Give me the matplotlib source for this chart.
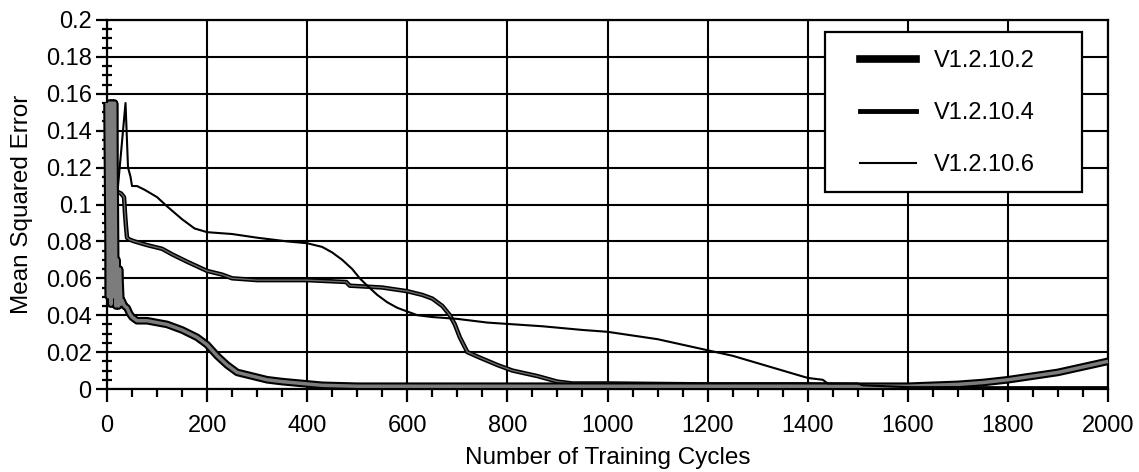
import matplotlib.pyplot as plt
import matplotlib.patheffects as pe
from matplotlib.lines import Line2D
from matplotlib.patches import Rectangle
from matplotlib.ticker import MultipleLocator, FuncFormatter

plt.rcParams['font.family'] = ['Liberation Sans', 'DejaVu Sans']

# data
labels = ["V1.2.10.2", "V1.2.10.4", "V1.2.10.6"]

cycles_2 = [0, 3, 5, 8, 10, 13, 15, 18, 20, 23, 25, 28, 30, 35, 40, 45, 50, 60, 80, 100,
            120, 150, 180, 200, 220, 240, 260, 290, 320, 350, 390, 430, 500, 700, 900,
            1100, 1300, 1500, 1600, 1650, 1700, 1750, 1800, 1850, 1900, 1950, 2000]
mse_2 = [0.155, 0.05, 0.155, 0.046, 0.155, 0.05, 0.155, 0.045, 0.07, 0.045, 0.065, 0.046,
         0.048, 0.045, 0.044, 0.041, 0.039, 0.037, 0.037, 0.036, 0.035, 0.032, 0.028, 0.024,
         0.018, 0.013, 0.009, 0.007, 0.005, 0.004, 0.003, 0.002, 0.0015, 0.0015, 0.0015,
         0.0015, 0.0015, 0.0015, 0.0015, 0.002, 0.0025, 0.0035, 0.005, 0.007, 0.009, 0.012, 0.015]

cycles_4 = [12, 20, 28, 34, 36, 38, 40, 45, 55, 80, 110, 130, 160, 200, 230, 250, 300, 400,
            478, 485, 550, 600, 630, 650, 670, 685, 695, 705, 720, 745, 780, 810, 860, 900,
            930, 1000, 1200, 1400, 1500, 1600]
mse_4 = [0.107, 0.107, 0.106, 0.104, 0.095, 0.088, 0.082, 0.081, 0.08, 0.078, 0.076, 0.073,
         0.069, 0.064, 0.062, 0.06, 0.059, 0.059, 0.058, 0.056, 0.055, 0.053, 0.051, 0.049,
         0.045, 0.04, 0.035, 0.028, 0.02, 0.017, 0.013, 0.01, 0.007, 0.004, 0.003, 0.003,
         0.0025, 0.0025, 0.002, 0.0015]

cycles_6 = [22, 37, 42, 47, 50, 60, 75, 100, 120, 150, 175, 200, 250, 300, 360, 400, 430,
            450, 470, 490, 505, 520, 540, 560, 580, 600, 620, 650, 700, 760, 870, 950, 1000,
            1050, 1100, 1150, 1200, 1250, 1300, 1350, 1400, 1430, 1440, 1500, 1510, 1600, 2000]
mse_6 = [0.11, 0.155, 0.12, 0.115, 0.11, 0.11, 0.108, 0.104, 0.099, 0.092, 0.087, 0.085,
         0.084, 0.082, 0.08, 0.079, 0.077, 0.074, 0.07, 0.065, 0.06, 0.056, 0.051, 0.047,
         0.044, 0.042, 0.04, 0.039, 0.038, 0.036, 0.034, 0.032, 0.031, 0.029, 0.027, 0.024,
         0.021, 0.018, 0.014, 0.01, 0.006, 0.005, 0.003, 0.003, 0.002, 0.001, 0.001]

fig = plt.figure(figsize=(11.39, 4.72), dpi=100)
ax = fig.add_axes([107 / 1139, 1 - 389 / 472, 1001 / 1139, 369 / 472])

# scanned look: black edge with a grey core on the thick curves
ax.plot(cycles_2, mse_2, color="black", lw=5.5, solid_capstyle="butt", clip_on=False,
        path_effects=[pe.Normal(), pe.Stroke(linewidth=2.5, foreground="#7c7c7c")], zorder=4)
ax.plot(cycles_4, mse_4, color="black", lw=3.2, clip_on=False,
        path_effects=[pe.Normal(), pe.Stroke(linewidth=1.0, foreground="#6a6a6a")], zorder=3)
ax.plot(cycles_6, mse_6, color="black", lw=1.5, clip_on=False, zorder=5)

ax.set_xlim(0, 2000)
ax.set_ylim(0, 0.2)
ax.xaxis.set_major_locator(MultipleLocator(200))
ax.xaxis.set_minor_locator(MultipleLocator(50))
ax.yaxis.set_major_locator(MultipleLocator(0.02))
ax.yaxis.set_minor_locator(MultipleLocator(0.005))
ax.yaxis.set_major_formatter(FuncFormatter(lambda v, p: "{:g}".format(round(v, 3))))

ax.grid(True, which="major", color="black", linewidth=1.5)
ax.set_axisbelow(True)
for s in ax.spines.values():
    s.set_linewidth(1.6)

ax.tick_params(axis="x", which="major", direction="out", length=9, width=1.6, pad=9.5, labelsize=17)
ax.tick_params(axis="x", which="minor", direction="out", length=6, width=1.6)
ax.tick_params(axis="y", which="major", direction="out", length=8, width=1.6, pad=3, labelsize=17)
ax.tick_params(axis="y", which="minor", direction="inout", length=7, width=1.6)

ax.set_xlabel("Number of Training Cycles", fontsize=17.5, labelpad=7.5)
ax.set_ylabel("Mean Squared Error", fontsize=17.5, labelpad=9)

# legend box drawn as its own white rectangle, key placed inside it
box = Rectangle((0.717, 0.534), 0.257, 0.433, transform=ax.transAxes, facecolor="white",
                edgecolor="black", linewidth=1.6, zorder=9, clip_on=False)
ax.add_patch(box)

handles = [Line2D([], [], color="black", lw=5.5),
           Line2D([], [], color="black", lw=3.5),
           Line2D([], [], color="black", lw=1.5)]
leg = ax.legend(handles, labels, loc="upper left", bbox_to_anchor=(0.752, 0.919),
                fontsize=17, frameon=False, handlelength=2.4, handletextpad=0.75,
                labelspacing=1.27, borderpad=0, borderaxespad=0)
leg.set_zorder(10)

fig.savefig("out.png", dpi=100)
